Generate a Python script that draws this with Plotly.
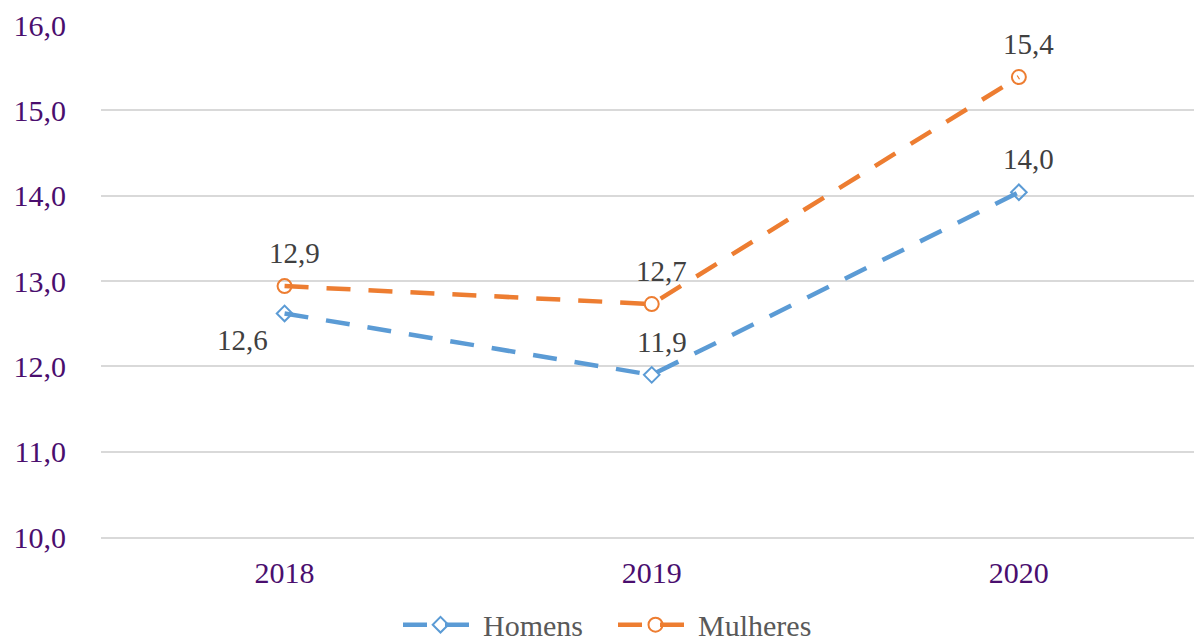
import plotly.graph_objects as go

years = ["2018", "2019", "2020"]
homens = [12.62, 11.90, 14.04]
mulheres = [12.94, 12.73, 15.39]
y_ticks = [10, 11, 12, 13, 14, 15, 16]

BLUE = "#5B9BD5"
ORANGE = "#ED7D31"
PURPLE = "#4A0E6E"
LABEL = "#404040"
FONT = "Liberation Serif"

def fmt(v):
    return f"{v:.1f}".replace(".", ",")

fig = go.Figure()
fig.add_trace(go.Scatter(
    x=years, y=homens, name="Homens", mode="lines+markers",
    line=dict(color=BLUE, width=4.5, dash="24px,18px"),
    marker=dict(symbol="diamond-open", size=12, color=BLUE, line=dict(width=2, color=BLUE)),
    cliponaxis=False,
))
fig.add_trace(go.Scatter(
    x=years, y=mulheres, name="Mulheres", mode="lines+markers",
    line=dict(color=ORANGE, width=4.5, dash="24px,18px"),
    marker=dict(symbol="circle-open", size=14, color=ORANGE, line=dict(width=2, color=ORANGE)),
    cliponaxis=False,
))

annotations = []
for i, v in enumerate(homens):
    if i == 0:
        xs, ys = -42, -27
    else:
        xs, ys = 10, 33
    annotations.append(dict(x=i, y=v, xref="x", yref="y", text=fmt(v), showarrow=False,
                            xshift=xs, yshift=ys, font=dict(family=FONT, size=29, color=LABEL)))
for i, v in enumerate(mulheres):
    annotations.append(dict(x=i, y=v, xref="x", yref="y", text=fmt(v), showarrow=False,
                            xshift=10, yshift=33, font=dict(family=FONT, size=29, color=LABEL)))

# title (mostly cut off at top of the image)
annotations.append(dict(x=(430 - 101) / (1194 - 101), y=1.0547, xref="paper", yref="paper",
                        text="<b>Brasil, por sexo (%)</b>",
                        showarrow=False, xanchor="left", yanchor="bottom",
                        font=dict(family=FONT, size=36, color=PURPLE)))

fig.update_layout(
    width=1194, height=644,
    margin=dict(l=101, r=0, t=25, b=107),
    paper_bgcolor="white", plot_bgcolor="white",
    separators=",.",
    showlegend=True,
    legend=dict(orientation="h", x=(398 - 101) / 1093, xanchor="left", yref="container", y=0.03,
                yanchor="middle", entrywidth=125, entrywidthmode="pixels",
                font=dict(family=FONT, size=30, color="#595959"), itemwidth=75, tracegroupgap=0),
    annotations=annotations,
)
fig.update_xaxes(
    type="category", range=[-0.5, 2.477], showgrid=False,
    showline=True, linecolor="#D9D9D9", linewidth=1.5,
    ticks="", ticklabelstandoff=8,
    tickfont=dict(family=FONT, size=30, color=PURPLE),
)
fig.update_yaxes(
    range=[10, 16], tickvals=y_ticks, tickformat=".1f",
    showgrid=True, gridcolor="#D9D9D9", gridwidth=1.5, zeroline=False,
    ticks="", ticklabelstandoff=34,
    tickfont=dict(family=FONT, size=30, color=PURPLE),
)

fig.write_html("out.html", config={"displayModeBar": False},
               post_script="document.body.style.margin='0';")
